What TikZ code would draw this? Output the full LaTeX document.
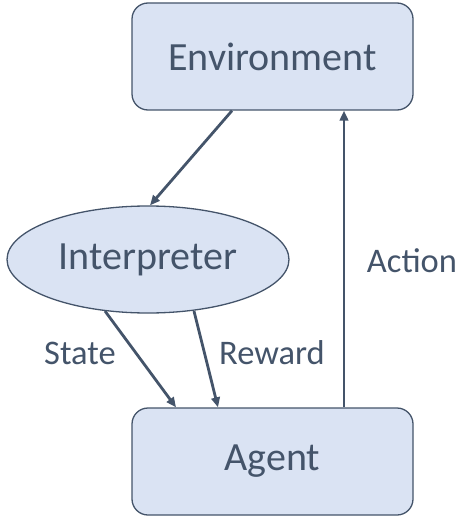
\documentclass[tikz,border=0pt]{standalone}
\usepackage{fontspec}
\setmainfont{Carlito}
\usetikzlibrary{arrows.meta,shapes.geometric}
\definecolor{boxfill}{HTML}{DAE3F3}
\definecolor{ink}{HTML}{44546A}
\begin{document}
\begin{tikzpicture}[x=1pt,y=-1pt,
  block/.style={draw=ink,fill=boxfill,line width=1.3pt,rounded corners=16pt,
    minimum width=281pt,minimum height=107pt,inner sep=0pt,text=ink,
    font=\fontsize{40}{46}\selectfont},
  oval/.style={ellipse,draw=ink,fill=boxfill,line width=1.3pt,
    minimum width=282pt,minimum height=107pt,inner sep=0pt,text=ink,
    font=\fontsize{40}{46}\selectfont},
  flow/.style={draw=ink,line width=2.8pt,-{Triangle[length=10pt,width=8.5pt]}},
  tag/.style={text=ink,font=\fontsize{34.5}{40}\selectfont,inner sep=0pt}]
\useasboundingbox (0,0) rectangle (460,516);
\node[block] (env) at (272.5,56.5) {Environment};
\node[block] (agent) at (272.5,461.5) {Agent};
\node[oval] (interp) at (148,259.5) {Interpreter};
\draw[flow] ([xshift=-40.5pt]env.south) -- ([xshift=2pt]interp.north);
\draw[flow] ([xshift=-43pt,yshift=2.6pt]interp.south) -- ([xshift=-96.5pt]agent.north);
\draw[flow] ([xshift=46pt,yshift=2.6pt]interp.south) -- ([xshift=-54.5pt]agent.north);
\draw[flow] ([xshift=71.5pt]agent.north) -- ([xshift=71.5pt]env.south);
\node[tag] (action) at (412,261) {Action};
\node[tag] (state) at (80,353) {State};
\node[tag] (reward) at (272,353) {Reward};
\end{tikzpicture}
\end{document}
